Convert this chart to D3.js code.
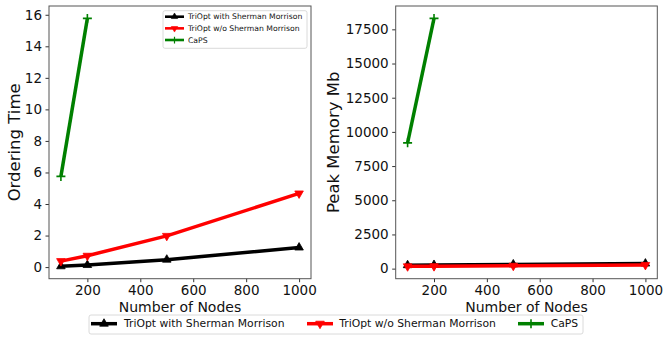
<!doctype html>
<html>
<head>
<meta charset="utf-8">
<script src="https://d3js.org/d3.v7.min.js"></script>
<style>
  body { margin: 0; background: #fff; }
  text { font-family: "DejaVu Sans", sans-serif; fill: #111; }
</style>
</head>
<body>
<svg id="chart" width="669" height="341"></svg>
<script>
// data
const nodes = [100, 200, 500, 1000]
const capsNodes = [100, 200]
const timeWithSM = [0.05, 0.13, 0.47, 1.24]
const timeWithoutSM = [0.38, 0.72, 1.98, 4.67]
const timeCaPS = [5.75, 15.77]
const memWithSM = [250, 270, 310, 370]
const memWithoutSM = [170, 180, 210, 270]
const memCaPS = [9200, 18300]
const seriesNames = ["TriOpt with Sherman Morrison", "TriOpt w/o Sherman Morrison", "CaPS"]
const xTicks = [200, 400, 600, 800, 1000]
const timeTicks = [0, 2, 4, 6, 8, 10, 12, 14, 16]
const memTicks = [0, 2500, 5000, 7500, 10000, 12500, 15000, 17500]

const COLORS = ["#000000", "#ff0000", "#008000"]
const MARKERS = ["up", "down", "plus"]
const TOP = 6, BOTTOM = 278.7

const svg = d3.select("#chart")

// matplotlib style 5% margins
function padded(vals) {
    const lo = d3.min(vals), hi = d3.max(vals), p = (hi - lo) * 0.05
    return [lo - p, hi + p]
}

function marker(g, kind, x, y, color) {
    if (kind === "plus") {
        g.append("path")
            .attr("d", `M${x - 4.5},${y}H${x + 4.5}M${x},${y - 4.5}V${y + 4.5}`)
            .attr("stroke", color).attr("stroke-width", 1.6).attr("fill", "none")
    } else {
        g.append("path")
            .attr("d", d3.symbol(d3.symbolTriangle, 32)())
            .attr("transform", `translate(${x},${y}) rotate(${kind === "down" ? 180 : 0})`)
            .attr("fill", color).attr("stroke", color).attr("stroke-width", 0.8)
    }
}

function panel(left, right, series, yTicks, yLabel, yLabelX) {
    const allY = series.flatMap(s => s.ys)
    const x = d3.scaleLinear().domain(padded(nodes)).range([left, right])
    const y = d3.scaleLinear().domain(padded(allY)).range([BOTTOM, TOP])

    const g = svg.append("g")

    const xa = g.append("g").attr("transform", `translate(0,${BOTTOM})`)
        .call(d3.axisBottom(x).tickValues(xTicks).tickSize(3.5).tickPadding(3.5).tickSizeOuter(0).tickFormat(d3.format("d")))
    const ya = g.append("g").attr("transform", `translate(${left},0)`)
        .call(d3.axisLeft(y).tickValues(yTicks).tickSize(3.5).tickPadding(3.5).tickSizeOuter(0).tickFormat(d3.format("d")))
    ;[xa, ya].forEach(a => {
        a.select(".domain").remove()
        a.selectAll("line").attr("stroke", "#333")
        a.selectAll("text").attr("font-size", "13.5px").attr("fill", "#111")
            .attr("font-family", "DejaVu Sans, sans-serif")
    })

    g.append("rect").attr("x", left).attr("y", TOP)
        .attr("width", right - left).attr("height", BOTTOM - TOP)
        .attr("fill", "none").attr("stroke", "#555").attr("stroke-width", 1)

    const line = d3.line().x(d => x(d[0])).y(d => y(d[1]))
    series.forEach(s => {
        const pts = s.xs.map((v, i) => [v, s.ys[i]])
        g.append("path").datum(pts).attr("d", line)
            .attr("fill", "none").attr("stroke", COLORS[s.k]).attr("stroke-width", 3.5)
            .attr("stroke-linejoin", "round")
        pts.forEach(p => marker(g, MARKERS[s.k], x(p[0]), y(p[1]), COLORS[s.k]))
    })

    g.append("text").attr("x", (left + right) / 2).attr("y", 311.5)
        .attr("text-anchor", "middle").attr("font-size", "14px").text("Number of Nodes")
    g.append("text")
        .attr("transform", `translate(${yLabelX},${(TOP + BOTTOM) / 2}) rotate(-90)`)
        .attr("text-anchor", "middle").attr("font-size", "16.5px").text(yLabel)
}

panel(49, 311, [
    { k: 0, xs: nodes, ys: timeWithSM },
    { k: 1, xs: nodes, ys: timeWithoutSM },
    { k: 2, xs: capsNodes, ys: timeCaPS }
], timeTicks, "Ordering Time", 20)

panel(395.7, 657.3, [
    { k: 0, xs: nodes, ys: memWithSM },
    { k: 1, xs: nodes, ys: memWithoutSM },
    { k: 2, xs: capsNodes, ys: memCaPS }
], memTicks, "Peak Memory Mb", 338.5)

// legend inside the left panel
const inner = svg.append("g")
inner.append("rect").attr("x", 163).attr("y", 10.7).attr("width", 144).attr("height", 37.6)
    .attr("rx", 2).attr("fill", "#fff").attr("fill-opacity", 0.8)
    .attr("stroke", "#d0d0d0").attr("stroke-width", 0.8)
seriesNames.forEach((name, i) => {
    const cy = 16.7 + i * 11.65
    inner.append("line").attr("x1", 165).attr("x2", 184).attr("y1", cy).attr("y2", cy)
        .attr("stroke", COLORS[i]).attr("stroke-width", 2.6)
    const mg = inner.append("g").attr("transform", `translate(174.5,${cy}) scale(0.75)`)
    marker(mg, MARKERS[i], 0, 0, COLORS[i])
    inner.append("text").attr("x", 188).attr("y", cy).attr("dy", "0.35em")
        .attr("font-size", "7.7px").text(name)
})

// legend below the panels
const outer = svg.append("g")
outer.append("rect").attr("x", 89).attr("y", 315).attr("width", 494).attr("height", 19)
    .attr("rx", 2).attr("fill", "#fff").attr("stroke", "#d0d0d0").attr("stroke-width", 0.8)
const handleX = [91, 307, 518]
const textX = [124, 339.3, 550.7]
seriesNames.forEach((name, i) => {
    const cy = 323.7
    outer.append("line").attr("x1", handleX[i]).attr("x2", handleX[i] + 26).attr("y1", cy).attr("y2", cy)
        .attr("stroke", COLORS[i]).attr("stroke-width", 3.5)
    marker(outer, MARKERS[i], handleX[i] + 13, cy, COLORS[i])
    outer.append("text").attr("x", textX[i]).attr("y", cy).attr("dy", "0.35em")
        .attr("font-size", "10.8px").text(name)
})
</script>
</body>
</html>
